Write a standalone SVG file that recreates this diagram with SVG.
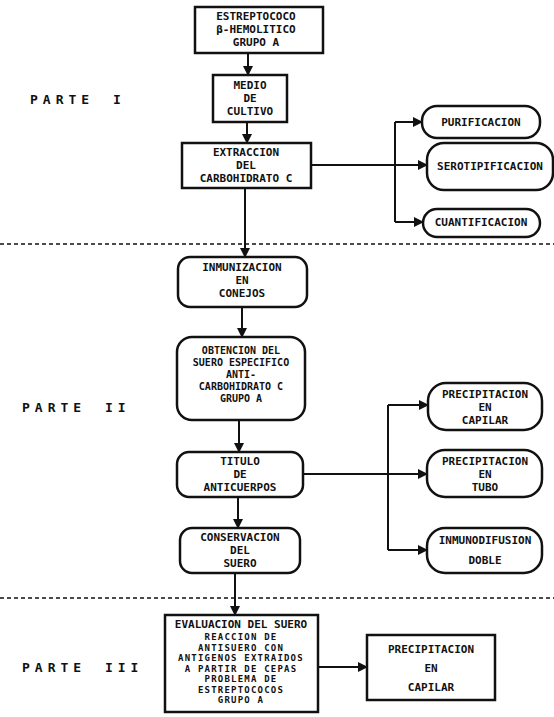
<svg xmlns="http://www.w3.org/2000/svg" width="554" height="717" viewBox="0 0 554 717">
<defs>
<style>
.bx{fill:#fff;stroke:#111;stroke-width:2.5}
.t{font-family:"DejaVu Sans Mono","Liberation Mono",monospace;font-weight:bold;font-size:11px;fill:#111;text-anchor:middle}
.s{font-size:10px}
.x{font-size:9px;letter-spacing:1.2px}
.p{font-family:"DejaVu Sans Mono","Liberation Mono",monospace;font-weight:bold;font-size:13px;fill:#111;letter-spacing:5px;word-spacing:6px}
.c{fill:none;stroke:#111;stroke-width:2}
.d{fill:none;stroke:#111;stroke-width:1.6;stroke-dasharray:4 3}
</style>
<marker id="ah" viewBox="0 0 10 10" refX="9" refY="5" markerWidth="5" markerHeight="5" orient="auto" markerUnits="strokeWidth">
<path d="M0,0 L10,5 L0,10 z" fill="#111"/>
</marker>
</defs>
<rect width="554" height="717" fill="#fff"/>

<g id="separators">
<line class="d" x1="0" y1="244" x2="554" y2="244"/>
<line class="d" x1="0" y1="598" x2="554" y2="598"/>
</g>

<g id="labels">
<text class="p" x="30" y="104">PARTE I</text>
<text class="p" x="22" y="412">PARTE II</text>
<text class="p" x="22" y="672">PARTE III</text>
</g>

<g id="connectors">
<line class="c" x1="248" y1="53" x2="248" y2="75" marker-end="url(#ah)"/>
<line class="c" x1="247" y1="122" x2="247" y2="143" marker-end="url(#ah)"/>
<line class="c" x1="245" y1="188" x2="245" y2="257" marker-end="url(#ah)"/>
<line class="c" x1="311" y1="165" x2="427" y2="165" marker-end="url(#ah)"/>
<line class="c" x1="395" y1="122" x2="395" y2="222"/>
<line class="c" x1="395" y1="122" x2="422" y2="122" marker-end="url(#ah)"/>
<line class="c" x1="395" y1="222" x2="423" y2="222" marker-end="url(#ah)"/>
<line class="c" x1="242" y1="307" x2="242" y2="337" marker-end="url(#ah)"/>
<line class="c" x1="239" y1="420" x2="239" y2="452" marker-end="url(#ah)"/>
<line class="c" x1="303" y1="474" x2="427" y2="474" marker-end="url(#ah)"/>
<line class="c" x1="388" y1="405" x2="388" y2="550"/>
<line class="c" x1="388" y1="405" x2="428" y2="405" marker-end="url(#ah)"/>
<line class="c" x1="388" y1="550" x2="427" y2="550" marker-end="url(#ah)"/>
<line class="c" x1="238" y1="497" x2="238" y2="528" marker-end="url(#ah)"/>
<line class="c" x1="235" y1="573" x2="235" y2="615" marker-end="url(#ah)"/>
<line class="c" x1="318" y1="667" x2="367" y2="667" marker-end="url(#ah)"/>
</g>

<g id="n1">
<rect class="bx" x="195" y="7" width="128" height="46"/>
<text class="t" x="256" y="20">ESTREPTOCOCO</text>
<text class="t" x="256" y="33">β-HEMOLITICO</text>
<text class="t" x="256" y="46">GRUPO A</text>
</g>
<g id="n2">
<rect class="bx" x="213" y="75" width="74" height="47"/>
<text class="t" x="250" y="89">MEDIO</text>
<text class="t" x="250" y="102">DE</text>
<text class="t" x="250" y="115">CULTIVO</text>
</g>
<g id="n3">
<rect class="bx" x="182" y="143" width="129" height="45"/>
<text class="t" x="246" y="156">EXTRACCION</text>
<text class="t" x="246" y="169">DEL</text>
<text class="t" x="246" y="182">CARBOHIDRATO C</text>
</g>
<g id="n4">
<rect class="bx" x="422" y="106" width="118" height="32" rx="15"/>
<text class="t" x="481" y="126">PURIFICACION</text>
</g>
<g id="n5">
<rect class="bx" x="427" y="143" width="126" height="47" rx="17"/>
<text class="t" x="490" y="170">SEROTIPIFICACION</text>
</g>
<g id="n6">
<rect class="bx" x="423" y="209" width="117" height="28" rx="14"/>
<text class="t" x="481" y="226">CUANTIFICACION</text>
</g>
<g id="n7">
<rect class="bx" x="178" y="257" width="129" height="50" rx="12"/>
<text class="t" x="242" y="271">INMUNIZACION</text>
<text class="t" x="242" y="284">EN</text>
<text class="t" x="242" y="297">CONEJOS</text>
</g>
<g id="n8">
<rect class="bx" x="177" y="337" width="128" height="83" rx="15"/>
<text class="t s" x="241" y="354">OBTENCION DEL</text>
<text class="t s" x="241" y="366">SUERO ESPECIFICO</text>
<text class="t s" x="241" y="378">ANTI-</text>
<text class="t s" x="241" y="390">CARBOHIDRATO C</text>
<text class="t s" x="241" y="402">GRUPO A</text>
</g>
<g id="n9">
<rect class="bx" x="177" y="452" width="126" height="45" rx="12"/>
<text class="t" x="240" y="465">TITULO</text>
<text class="t" x="240" y="478">DE</text>
<text class="t" x="240" y="491">ANTICUERPOS</text>
</g>
<g id="n10">
<rect class="bx" x="428" y="383" width="114" height="47" rx="18"/>
<text class="t" x="485" y="398">PRECIPITACION</text>
<text class="t" x="485" y="411">EN</text>
<text class="t" x="485" y="424">CAPILAR</text>
</g>
<g id="n11">
<rect class="bx" x="427" y="450" width="115" height="47" rx="18"/>
<text class="t" x="485" y="465">PRECIPITACION</text>
<text class="t" x="485" y="478">EN</text>
<text class="t" x="485" y="491">TUBO</text>
</g>
<g id="n12">
<rect class="bx" x="427" y="528" width="115" height="45" rx="18"/>
<text class="t" x="485" y="544">INMUNODIFUSION</text>
<text class="t" x="485" y="564">DOBLE</text>
</g>
<g id="n13">
<rect class="bx" x="180" y="528" width="120" height="45" rx="12"/>
<text class="t" x="240" y="541">CONSERVACION</text>
<text class="t" x="240" y="554">DEL</text>
<text class="t" x="240" y="567">SUERO</text>
</g>
<g id="n14">
<rect class="bx" x="165" y="615" width="153" height="97"/>
<text class="t" x="241" y="628">EVALUACION DEL SUERO</text>
<text class="t x" x="241" y="640">REACCION DE</text>
<text class="t x" x="241" y="650.5">ANTISUERO CON</text>
<text class="t x" x="241" y="661">ANTIGENOS EXTRAIDOS</text>
<text class="t x" x="241" y="671.5">A PARTIR DE CEPAS</text>
<text class="t x" x="241" y="682">PROBLEMA DE</text>
<text class="t x" x="241" y="692.5">ESTREPTOCOCOS</text>
<text class="t x" x="241" y="703">GRUPO A</text>
</g>
<g id="n15">
<rect class="bx" x="367" y="635" width="128" height="65"/>
<text class="t" x="431" y="653">PRECIPITACION</text>
<text class="t" x="431" y="672">EN</text>
<text class="t" x="431" y="691">CAPILAR</text>
</g>
</svg>
